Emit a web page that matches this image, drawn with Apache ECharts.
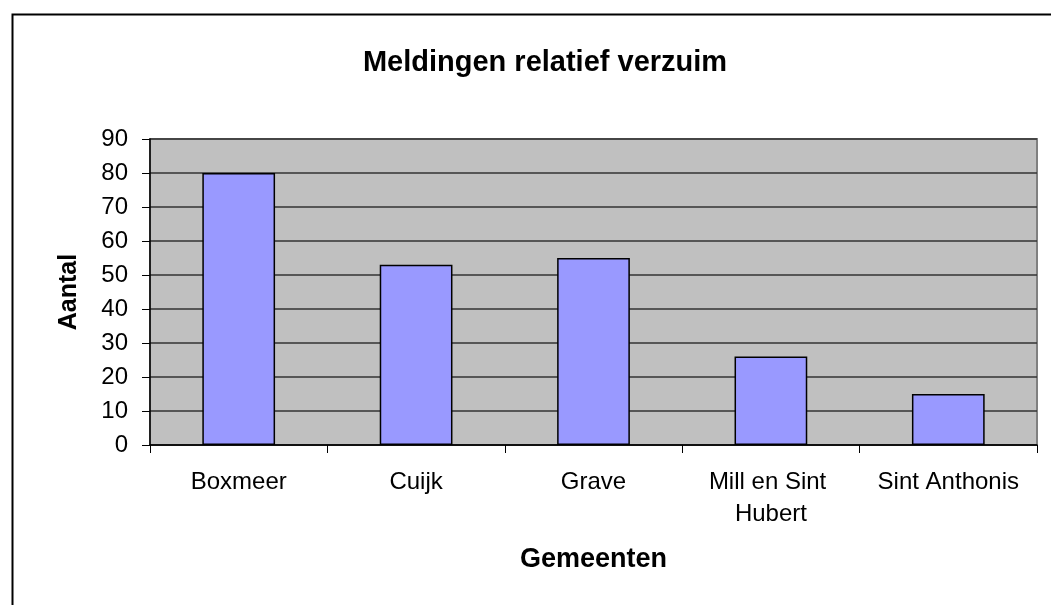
<!DOCTYPE html>
<html>
<head>
<meta charset="utf-8">
<script src="https://cdn.jsdelivr.net/npm/echarts@6/dist/echarts.min.js"></script>
<style>
html,body{margin:0;padding:0;background:#fff;}
#c{width:1051px;height:605px;}
</style>
</head>
<body>
<div id="c"></div>
<script>
const titleText = 'Meldingen relatief verzuim';
const categories = ['Boxmeer', 'Cuijk', 'Grave', 'Mill en Sint Hubert', 'Sint Anthonis'];
const values = [80, 53, 55, 26, 15];
const yTicks = [0, 10, 20, 30, 40, 50, 60, 70, 80, 90];
const xName = 'Gemeenten';
const yName = 'Aantal';

const chart = echarts.init(document.getElementById('c'), null, {renderer: 'canvas'});
const font = 'Liberation Sans, Arial, sans-serif';
chart.setOption({
  animation: false,
  backgroundColor: '#ffffff',
  graphic: [{
    type: 'rect', left: 10, top: 12, z: 0,
    shape: {width: 1100, height: 700},
    style: {fill: 'none', stroke: '#000', lineWidth: 2}
  }],
  title: {
    text: titleText, left: 540, top: 43, textAlign: 'center',
    textStyle: {fontFamily: font, fontWeight: 'bold', fontSize: 29, color: '#000'}
  },
  grid: {
    left: 150, top: 139, width: 887, height: 306,
    show: true, backgroundColor: '#c0c0c0', borderColor: '#808080', borderWidth: 2
  },
  xAxis: {
    type: 'category', data: categories,
    name: xName, nameLocation: 'middle', nameGap: 101,
    nameTextStyle: {fontFamily: font, fontWeight: 'bold', fontSize: 27, color: '#000'},
    axisLine: {show: true, lineStyle: {color: '#000', width: 1.5}},
    axisTick: {show: true, length: 8, lineStyle: {color: '#000'}, alignWithLabel: false},
    axisLabel: {
      fontFamily: font, fontSize: 24, color: '#000', margin: 21,
      width: 165, overflow: 'break', lineHeight: 32, interval: 0
    },
    splitLine: {show: false}
  },
  yAxis: {
    type: 'value', min: yTicks[0], max: yTicks[yTicks.length - 1], interval: 10,
    name: yName, nameLocation: 'middle', nameRotate: 90, nameGap: 68,
    nameTextStyle: {fontFamily: font, fontWeight: 'bold', fontSize: 25, color: '#000'},
    axisLine: {show: true, lineStyle: {color: '#000', width: 1.5}},
    axisTick: {show: true, length: 8, lineStyle: {color: '#000'}},
    axisLabel: {fontFamily: font, fontSize: 24, color: '#000', margin: 22},
    splitLine: {show: true, lineStyle: {color: '#333333', width: 1.5}}
  },
  series: [{
    type: 'bar', data: values, barWidth: '41%',
    itemStyle: {color: '#9999ff', borderColor: '#000', borderWidth: 1.5}
  }]
});
</script>
</body>
</html>
